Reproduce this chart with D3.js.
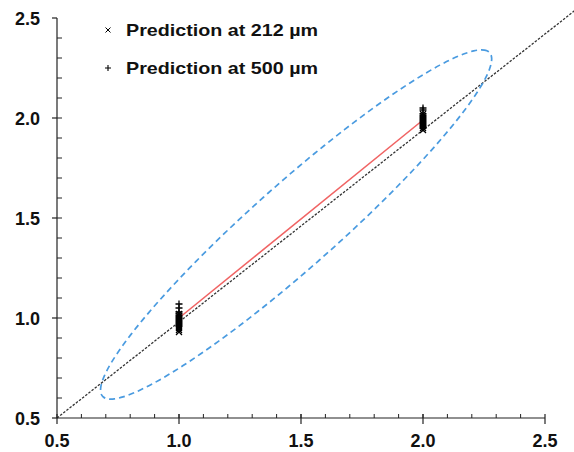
<!DOCTYPE html>
<html>
<head>
<meta charset="utf-8">
<script src="https://cdn.jsdelivr.net/npm/d3@7"></script>
<style>
  body { margin: 0; background: #fff; }
  svg { display: block; font-family: "Liberation Sans", Arial, sans-serif; }
  .tick-label { font-weight: bold; font-size: 18px; fill: #111; }
  .legend-text { font-weight: bold; font-size: 16.5px; fill: #111; }
</style>
</head>
<body>
<svg width="574" height="452"></svg>
<script>
// axis ticks
var majorTicks = [0.5, 1.0, 1.5, 2.0, 2.5];
var minorTicks = d3.range(6, 25).map(function (d) { return d / 10; });

// predicted values at each measured level
var pred212At1 = [0.93, 0.94, 0.95, 0.96, 0.97, 0.98, 0.99, 1.00, 1.01, 1.02];
var pred500At1 = [0.96, 0.97, 0.98, 0.99, 1.00, 1.01, 1.02, 1.03, 1.05, 1.07];
var pred212At2 = [1.94, 1.95, 1.96, 1.97, 1.98, 1.99, 2.00, 2.01, 2.02];
var pred500At2 = [1.95, 1.96, 1.97, 1.98, 1.99, 2.00, 2.01, 2.02, 2.04, 2.05];

// mean line between the two levels
var meanX = [1.0, 2.0];
var meanY = [1.0, 1.99];

// fitted line (dashed)
var fitX = [0.5, 2.7];
var fitY = [0.5, 2.612];

// confidence ellipse (data units)
var ellipseCenter = [1.48, 1.4675];
var ellipseMajor = [0.79, 0.8625];
var ellipseMinor = [-0.135, 0.135];

var legendLabels = ["Prediction at 212 \u00b5m", "Prediction at 500 \u00b5m"];

var svg = d3.select("svg");

var x = d3.scaleLinear().domain([0.5, 2.5]).range([57, 545]);
var y = d3.scaleLinear().domain([0.5, 2.5]).range([418, 18]);

// fitted line
svg.append("line")
    .attr("x1", x(fitX[0])).attr("y1", y(fitY[0]))
    .attr("x2", x(fitX[1])).attr("y2", y(fitY[1]))
    .attr("stroke", "#333")
    .attr("stroke-width", 1.3)
    .attr("stroke-dasharray", "2.5,1.5");

// ellipse
var ellPts = d3.range(0, 360, 3).map(function (a) {
    var t = a * Math.PI / 180;
    return [ellipseCenter[0] + Math.cos(t) * ellipseMajor[0] + Math.sin(t) * ellipseMinor[0],
            ellipseCenter[1] + Math.cos(t) * ellipseMajor[1] + Math.sin(t) * ellipseMinor[1]];
});
svg.append("path")
    .attr("d", d3.line().x(function (d) { return x(d[0]); }).y(function (d) { return y(d[1]); }).curve(d3.curveCardinalClosed)(ellPts))
    .attr("fill", "none")
    .attr("stroke", "#4a9be0")
    .attr("stroke-width", 1.7)
    .attr("stroke-dasharray", "6,4");

// mean line
svg.append("line")
    .attr("x1", x(meanX[0])).attr("y1", y(meanY[0]))
    .attr("x2", x(meanX[1])).attr("y2", y(meanY[1]))
    .attr("stroke", "#f06464")
    .attr("stroke-width", 1.6);

// markers
function cross(g, cx, cy, s, w) {
    g.append("path")
        .attr("d", "M" + (cx - s) + "," + (cy - s) + "L" + (cx + s) + "," + (cy + s) +
                   "M" + (cx - s) + "," + (cy + s) + "L" + (cx + s) + "," + (cy - s))
        .attr("stroke", "#000").attr("stroke-width", w);
}
function plus(g, cx, cy, s, w) {
    g.append("path")
        .attr("d", "M" + (cx - s) + "," + cy + "L" + (cx + s) + "," + cy +
                   "M" + cx + "," + (cy - s) + "L" + cx + "," + (cy + s))
        .attr("stroke", "#000").attr("stroke-width", w);
}

var marks = svg.append("g");
pred212At1.forEach(function (v) { cross(marks, x(1.0), y(v), 3, 1.3); });
pred212At2.forEach(function (v) { cross(marks, x(2.0), y(v), 3, 1.3); });
pred500At1.forEach(function (v) { plus(marks, x(1.0), y(v), 3.5, 1.3); });
pred500At2.forEach(function (v) { plus(marks, x(2.0), y(v), 3.5, 1.3); });

// axes
var axisColor = "#222";
svg.append("line").attr("x1", x(0.5)).attr("x2", x(2.5)).attr("y1", y(0.5)).attr("y2", y(0.5))
    .attr("stroke", axisColor).attr("stroke-width", 1.2);
svg.append("line").attr("x1", x(0.5)).attr("x2", x(0.5)).attr("y1", y(0.5)).attr("y2", y(2.5))
    .attr("stroke", axisColor).attr("stroke-width", 1.2);

svg.selectAll(".xmaj").data(majorTicks).enter().append("line")
    .attr("x1", function (d) { return x(d); }).attr("x2", function (d) { return x(d); })
    .attr("y1", y(0.5) - 4).attr("y2", y(0.5) + 6)
    .attr("stroke", axisColor).attr("stroke-width", 1.2);
svg.selectAll(".xmin").data(minorTicks).enter().append("line")
    .attr("x1", function (d) { return x(d); }).attr("x2", function (d) { return x(d); })
    .attr("y1", y(0.5) - 4).attr("y2", y(0.5))
    .attr("stroke", axisColor).attr("stroke-width", 1);
svg.selectAll(".ymaj").data(majorTicks).enter().append("line")
    .attr("y1", function (d) { return y(d); }).attr("y2", function (d) { return y(d); })
    .attr("x1", x(0.5) - 5).attr("x2", x(0.5))
    .attr("stroke", axisColor).attr("stroke-width", 1.2);
svg.selectAll(".ymin").data(minorTicks).enter().append("line")
    .attr("y1", function (d) { return y(d); }).attr("y2", function (d) { return y(d); })
    .attr("x1", x(0.5)).attr("x2", x(0.5) + 5)
    .attr("stroke", axisColor).attr("stroke-width", 1);

svg.selectAll(".xl").data(majorTicks).enter().append("text")
    .attr("class", "tick-label")
    .attr("x", function (d) { return x(d); })
    .attr("y", 447)
    .attr("text-anchor", "middle")
    .text(function (d) { return d3.format(".1f")(d); });
svg.selectAll(".yl").data(majorTicks).enter().append("text")
    .attr("class", "tick-label")
    .attr("x", 40)
    .attr("y", function (d) { return y(d) + 6.5; })
    .attr("text-anchor", "end")
    .text(function (d) { return d3.format(".1f")(d); });

// legend
var legend = svg.append("g");
cross(legend, 108, 30, 2.5, 1);
plus(legend, 108, 68, 3, 1.1);
legend.selectAll("text").data(legendLabels).enter().append("text")
    .attr("class", "legend-text")
    .attr("x", 126)
    .attr("y", function (d, i) { return 36 + i * 38; })
    .attr("textLength", 192)
    .attr("lengthAdjust", "spacingAndGlyphs")
    .text(function (d) { return d; });
</script>
</body>
</html>
